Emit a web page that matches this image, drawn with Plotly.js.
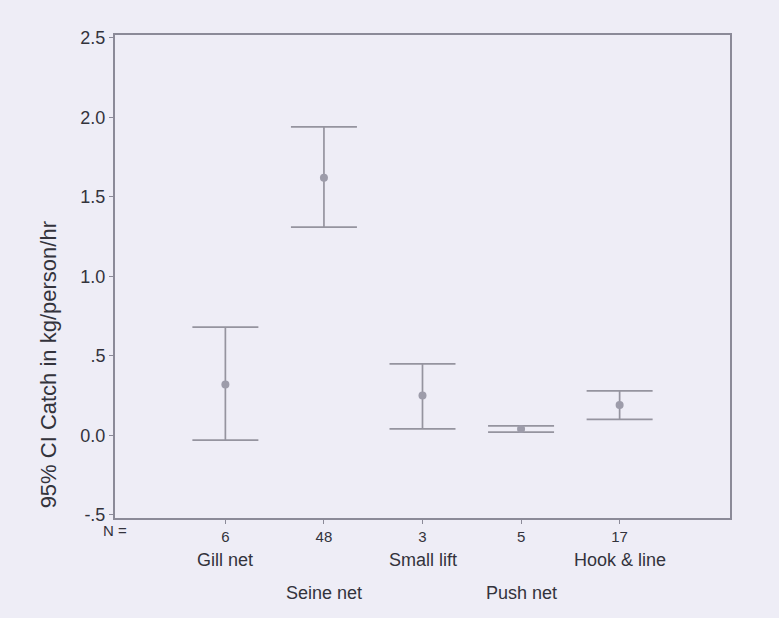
<!DOCTYPE html>
<html>
<head>
<meta charset="utf-8">
<script src="https://cdn.plot.ly/plotly-3.0.1.min.js"></script>
<style>html,body{margin:0;padding:0;background:#eeedf6;}</style>
</head>
<body>
<div id="chart" style="width:779px;height:618px;"></div>
<script>
// Data
const categories = ["Gill net", "Seine net", "Small lift", "Push net", "Hook & line"];
const nValues = ["6", "48", "3", "5", "17"];
const meanValues = [0.32, 1.62, 0.25, 0.04, 0.19];
const upperCI = [0.68, 1.94, 0.45, 0.06, 0.28];
const lowerCI = [-0.03, 1.31, 0.04, 0.02, 0.10];
const yTickVals = [-0.5, 0, 0.5, 1.0, 1.5, 2.0, 2.5];
const yTickText = ["-.5", "0.0", ".5", "1.0", "1.5", "2.0", "2.5"];
const yTitle = "95% CI Catch in kg/person/hr";

const xPos = categories.map((c, i) => i + 1);
const FONT = "Liberation Sans, Arial, sans-serif";
const lineCol = "#8b8a98";
const barCol = "#95949f";
const textCol = "#33333c";

const trace = {
  type: "scatter",
  mode: "markers",
  x: xPos,
  y: meanValues,
  marker: {symbol: "circle", size: 8, color: "#9d9caa"},
  error_y: {
    type: "data",
    symmetric: false,
    array: upperCI.map((u, i) => u - meanValues[i]),
    arrayminus: lowerCI.map((l, i) => meanValues[i] - l),
    color: barCol,
    thickness: 1.7,
    width: 33
  },
  hoverinfo: "skip",
  showlegend: false
};

const annotations = [];
categories.forEach((c, i) => {
  annotations.push({
    text: c, x: xPos[i], xref: "x",
    y: i % 2 === 0 ? -0.087 : -0.155, yref: "paper",
    xanchor: "center", yanchor: "middle", showarrow: false,
    font: {family: FONT, size: 18, color: textCol}
  });
});
annotations.push({
  text: "N =", x: 0, xref: "paper", y: -0.025, yref: "paper",
  xanchor: "center", yanchor: "middle", showarrow: false,
  font: {family: FONT, size: 15, color: textCol}
});
annotations.push({
  text: yTitle, x: -0.109, xref: "paper", y: 0.318, yref: "paper",
  textangle: -90, xanchor: "center", yanchor: "middle", showarrow: false,
  font: {family: FONT, size: 22, color: textCol}
});

const layout = {
  width: 779, height: 618,
  margin: {l: 115, r: 49, t: 35, b: 100, pad: 0},
  paper_bgcolor: "#eeedf6",
  plot_bgcolor: "#eeedf6",
  showlegend: false,
  xaxis: {
    range: [-0.12, 6.12],
    tickmode: "array", tickvals: xPos, ticktext: nValues,
    ticks: "outside", ticklen: 4, tickcolor: lineCol, tickwidth: 1,
    showgrid: false, zeroline: false,
    showline: true, linecolor: lineCol, linewidth: 2, mirror: true,
    tickfont: {family: FONT, size: 15, color: textCol},
    fixedrange: true
  },
  yaxis: {
    range: [-0.52, 2.518],
    tickmode: "array", tickvals: yTickVals, ticktext: yTickText,
    ticks: "outside", ticklen: 4, tickcolor: lineCol, tickwidth: 1,
    showgrid: false, zeroline: false,
    showline: true, linecolor: lineCol, linewidth: 2, mirror: true,
    tickfont: {family: FONT, size: 18, color: textCol},
    fixedrange: true
  },
  annotations: annotations
};

Plotly.newPlot("chart", [trace], layout, {displayModeBar: false, staticPlot: true});
</script>
</body>
</html>
